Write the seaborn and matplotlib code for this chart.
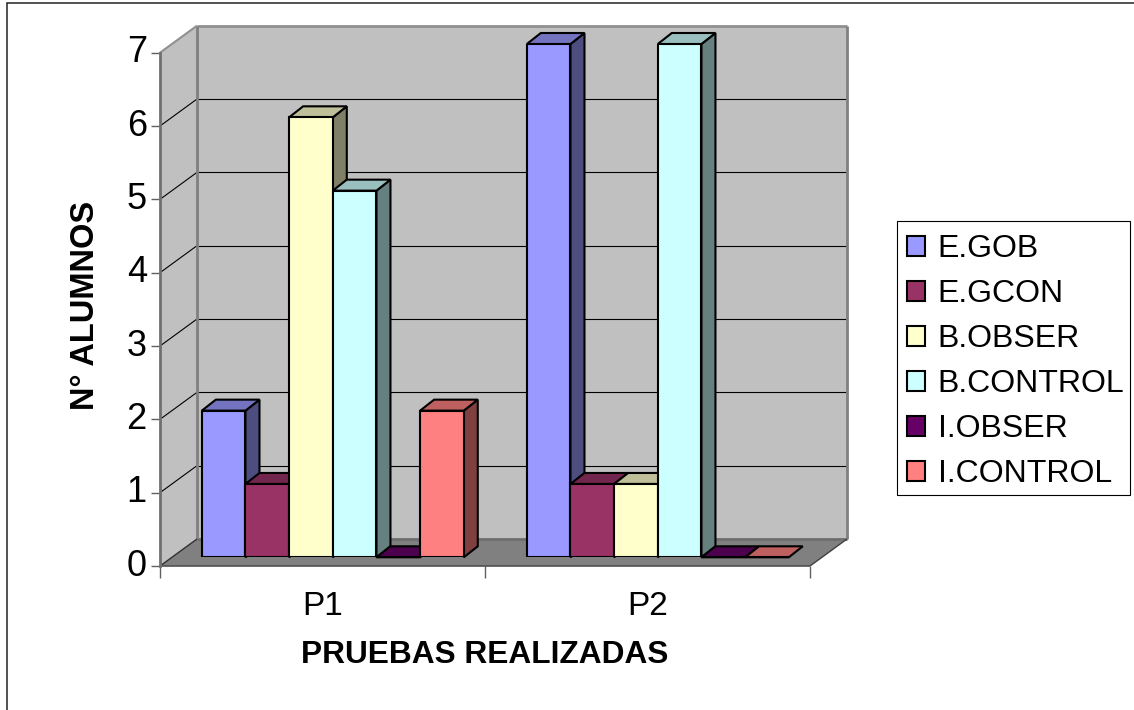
import pandas as pd
import matplotlib
matplotlib.use("Agg")
import matplotlib.pyplot as plt
import seaborn as sns
from matplotlib.patches import Polygon, Rectangle
from matplotlib.transforms import IdentityTransform
from matplotlib.colors import to_rgb

# datos
pruebas = ["P1", "P2"]
series = ["E.GOB", "E.GCON", "B.OBSER", "B.CONTROL", "I.OBSER", "I.CONTROL"]
valores_p1 = [2, 1, 6, 5, 0, 2]
valores_p2 = [7, 1, 1, 7, 0, 0]
colores = ["#9999FF", "#993366", "#FFFFCC", "#CCFFFF", "#660066", "#FF8080"]

filas = []
for s, a, b in zip(series, valores_p1, valores_p2):
    filas.append({"prueba": "P1", "serie": s, "n": a})
    filas.append({"prueba": "P2", "serie": s, "n": b})
df = pd.DataFrame(filas)

W, H = 1134, 710
sns.set_style("white")
plt.rcParams["font.family"] = ["Liberation Sans", "DejaVu Sans"]
plt.rcParams["text.color"] = "black"
plt.rcParams["axes.labelcolor"] = "black"
plt.rcParams["xtick.color"] = "black"
plt.rcParams["ytick.color"] = "black"
fig = plt.figure(figsize=(W / 100, H / 100), dpi=100)


def caja(x0, x1, y_top, y_bottom):
    return [x0 / W, 1 - y_bottom / H, (x1 - x0) / W, (y_bottom - y_top) / H]


# marco exterior (sin lado derecho ni inferior visibles)
fig.add_artist(Rectangle((7, -5), W + 10, H - 2.5 + 5, transform=IdentityTransform(),
                         fill=False, edgecolor="#222222", linewidth=1.1))

# plano frontal (ejes) y plano de las barras
ax0 = fig.add_axes(caja(160, 810, 52.7, 566))
ax = fig.add_axes(caja(170.3, 820.3, 44, 557.3))
ax0.set_zorder(1)
ax.set_zorder(2)
ax.patch.set_visible(False)
ax0.patch.set_visible(False)

sns.barplot(data=df, x="prueba", y="n", hue="serie", order=pruebas, hue_order=series,
            palette=colores, saturation=1, width=0.806, gap=0, edgecolor="black",
            linewidth=1.5, ax=ax)
ax.set_xlim(-0.5, 1.5)
ax.set_ylim(0, 7)
ax.axis("off")

ax0.set_xlim(-0.5, 1.5)
ax0.set_ylim(0, 7)
ax0.set_yticks(range(8))
ax0.set_xticks([-0.5, 0.5, 1.5])
ax0.set_xticklabels([])
ax0.set_xticks([0, 1], labels=pruebas, minor=True)
ax0.tick_params(axis="x", which="major", bottom=True, length=8.5, width=1, color="#606060")
ax0.tick_params(axis="x", which="minor", bottom=False, length=0, labelsize=24, pad=18)
ax0.tick_params(axis="y", left=True, length=6.5, width=1, color="#606060", labelsize=26, pad=3)
for t in ax0.get_yticklabels():
    t.set_verticalalignment("center")
for lado in ["top", "right", "bottom"]:
    ax0.spines[lado].set_visible(False)
ax0.spines["left"].set_color("#707070")
ax0.spines["left"].set_linewidth(2)
ax0.set_xlabel("PRUEBAS REALIZADAS", fontsize=22.8, fontweight="bold", labelpad=13)
ax0.set_ylabel("N° ALUMNOS", fontsize=23.5, fontweight="bold")
ax0.yaxis.set_label_coords((101 - 160) / 650, (566 - 305) / 513.3)

# paredes y suelo
PX, PY = 37, 27


def fr(x, y):
    return tuple(ax0.transData.transform((x, y)))


def bk(x, y):
    a, b = ax0.transData.transform((x, y))
    return (a + PX, b + PY)


def poli(a, puntos, color, borde="none", lw=0, z=1):
    a.add_patch(Polygon(puntos, closed=True, facecolor=color, edgecolor=borde, linewidth=lw,
                        transform=IdentityTransform(), clip_on=False, zorder=z))


def linea(a, p, q, color, lw, z=1.5):
    a.plot([p[0], q[0]], [p[1], q[1]], color=color, linewidth=lw,
           transform=IdentityTransform(), clip_on=False, zorder=z, solid_capstyle="butt")


poli(ax0, [fr(-0.5, 0), bk(-0.5, 0), bk(-0.5, 7), fr(-0.5, 7)], "#C0C0C0")
poli(ax0, [bk(-0.5, 0), bk(1.5, 0), bk(1.5, 7), bk(-0.5, 7)], "#C0C0C0")
poli(ax0, [fr(-0.5, 0), fr(1.5, 0), bk(1.5, 0), bk(-0.5, 0)], "#808080")
for k in range(1, 7):
    linea(ax0, bk(-0.5, k), bk(1.5, k), "black", 0.8)
    linea(ax0, fr(-0.5, k), bk(-0.5, k), "black", 0.8)
linea(ax0, bk(-0.5, 0), bk(1.5, 0), "#6E6E6E", 2)
linea(ax0, bk(-0.5, 7), bk(1.5, 7), "#909090", 2)
linea(ax0, bk(-0.5, 0), bk(-0.5, 7), "#808080", 2)
linea(ax0, bk(1.5, 0), bk(1.5, 7), "#808080", 2)
linea(ax0, fr(-0.5, 7), bk(-0.5, 7), "#909090", 1.5)
linea(ax0, fr(-0.5, 0), bk(-0.5, 0), "#303030", 1)
linea(ax0, fr(-0.5, 0), fr(1.5, 0), "#505050", 1.2)
linea(ax0, fr(1.5, 0), bk(1.5, 0), "#404040", 1)

# caras laterales y superiores de las barras
DX, DY = 14, 11
barras = [b for b in ax.patches if isinstance(b, Rectangle) and b.get_width() > 0]
barras = sorted(barras, key=lambda b: b.get_x())
for i, b in enumerate(barras):
    x0, x1 = b.get_x(), b.get_x() + b.get_width()
    h = b.get_height()
    c = to_rgb(b.get_facecolor()[:3])
    z = 3 + i
    b.set_zorder(z)
    (ax_, ay), (bx, by) = ax.transData.transform([(x0, h), (x1, h)])
    _, by0 = ax.transData.transform((x1, 0))
    lado = [v * 0.5 for v in c]
    tapa = [v * 0.75 for v in c]
    if h > 0:
        poli(ax, [(bx, by0), (bx + DX, by0 + DY), (bx + DX, by + DY), (bx, by)], lado, "black", 1.5, z - 0.2)
    poli(ax, [(ax_, ay), (bx, by), (bx + DX, by + DY), (ax_ + DX, ay + DY)], tapa, "black", 1.5, z - 0.1)

# leyenda
fig.add_artist(Rectangle((897, H - 495), 233, 274, transform=IdentityTransform(),
                         facecolor="white", edgecolor="black", linewidth=0.8, zorder=5))
handles, labels = ax.get_legend_handles_labels()
leg = ax.legend(handles, labels, loc="upper left", bbox_to_anchor=(896 / W, 1 - 223 / H),
                bbox_transform=fig.transFigure, borderaxespad=0, fontsize=23, frameon=False,
                labelspacing=0.47, handlelength=0.56, handleheight=0.56, handletextpad=0.4,
                borderpad=0.35)
leg.set_zorder(10)
ax.set_zorder(6)

fig.savefig("out.png", dpi=100)
